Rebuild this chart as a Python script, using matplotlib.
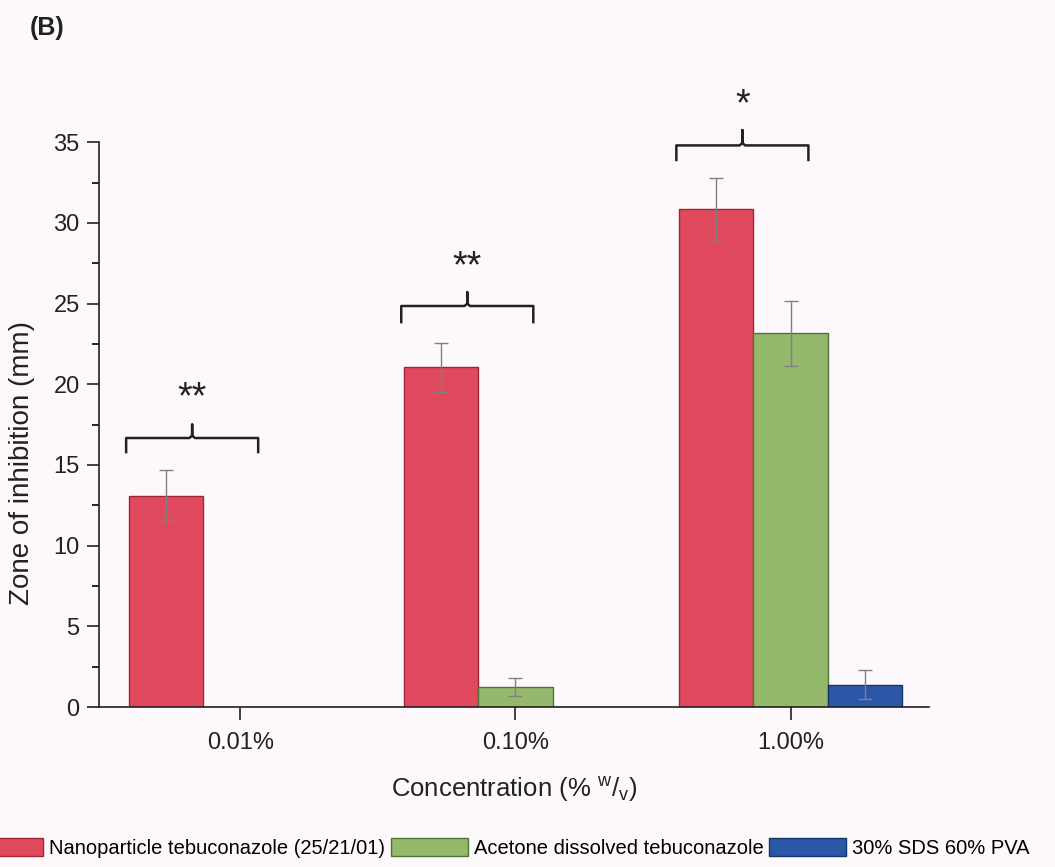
import matplotlib.pyplot as plt
import numpy as np

plt.rcParams['font.family'] = ['Liberation Sans', 'DejaVu Sans']
plt.rcParams['mathtext.fontset'] = 'custom'
plt.rcParams['mathtext.rm'] = 'Liberation Sans'

# Data
concentrations = ['0.01%', '0.10%', '1.00%']
series_names = ['Nanoparticle tebuconazole (25/21/01)',
                'Acetone dissolved tebuconazole',
                '30% SDS 60% PVA']
nano_vals = [13.1, 21.05, 30.85]
nano_err = [1.6, 1.5, 1.95]
acetone_vals = [0.0, 1.25, 23.15]
acetone_err = [0.0, 0.55, 2.0]
sds_vals = [0.0, 0.0, 1.38]
sds_err = [0.0, 0.0, 0.9]
signif = ['**', '**', '*']

values = [nano_vals, acetone_vals, sds_vals]
errors = [nano_err, acetone_err, sds_err]
colors = ['#E14A5E', '#94B86C', '#2B58A6']
edges = ['#9E2436', '#4F7436', '#17336B']

bg = '#fcf8fb'
fig = plt.figure(figsize=(10.55, 8.67), dpi=100, facecolor=bg)
ax = fig.add_axes([0.094, 0.1845, 0.787, 0.6515], facecolor=bg)

x = np.arange(1, len(concentrations) + 1)
w = 0.27
for i in range(3):
    vals = np.array(values[i])
    errs = np.array(errors[i])
    pos = x + (i - 1) * w
    ax.bar(pos, vals, width=w, color=colors[i], edgecolor=edges[i],
           linewidth=1.0, label=series_names[i], zorder=2)
    mask = vals > 0
    ax.errorbar(pos[mask], vals[mask], yerr=errs[mask], fmt='none',
                ecolor='#808080', elinewidth=1.0, capsize=5, capthick=1.0, zorder=3)

# significance brackets: (end bottom, line, peak, star baseline)
bracket_levels = [(15.8, 16.67, 17.5, 18.5),
                  (23.85, 24.85, 25.7, 26.6),
                  (33.9, 34.8, 35.75, 36.65)]
for xc, (yb, yl, yp, ys), s in zip(x, bracket_levels, signif):
    xl, xr = xc - 0.415, xc + 0.065
    xm = (xl + xr) / 2
    ax.plot([xl, xl, xm - 0.01, xm, xm, xm, xm + 0.01, xr, xr],
            [yb, yl, yl, yl + 0.15, yp, yl + 0.15, yl, yl, yb],
            color='#222222', lw=1.8, clip_on=False, solid_joinstyle='round')
    ax.text(xm, ys, s, ha='center', va='baseline', fontsize=27, color='#222222',
            clip_on=False)

ax.set_xlim(0.487, 3.505)
ax.set_ylim(0, 35)
ax.set_xticks(x)
ax.set_xticklabels(concentrations)
ax.set_yticks(np.arange(0, 36, 5))
ax.set_yticks(np.arange(2.5, 35, 5), minor=True)
ax.tick_params(axis='both', which='major', labelsize=17, length=9, width=1.2,
               direction='out', colors='#222222')
ax.tick_params(axis='x', which='major', pad=9)
ax.tick_params(axis='y', which='major', pad=5)
ax.tick_params(axis='y', which='minor', length=5, width=1.2, direction='out')
for side in ['top', 'right']:
    ax.spines[side].set_visible(False)
for side in ['left', 'bottom']:
    ax.spines[side].set_linewidth(1.2)
    ax.spines[side].set_color('#222222')

ax.set_ylabel('Zone of inhibition (mm)', fontsize=20, color='#222222')
ax.yaxis.set_label_coords(-0.077, 0.432)
ax.set_xlabel(r'Concentration (% $\mathregular{^{w}/_{v}}$)', fontsize=18.5,
              color='#222222')
ax.xaxis.set_label_coords(0.5, -0.121)

fig.text(0.028, 0.968, '(B)', fontsize=18, fontweight='bold', ha='left', va='center',
         color='#222222')

fig.legend(loc='center', bbox_to_anchor=(0.472, 0.022), ncol=3, frameon=False,
           fontsize=14.5, handlelength=3.8, handleheight=1.0, handletextpad=0.3,
           columnspacing=0.3)

fig.savefig('out.png', dpi=100, facecolor=bg)
